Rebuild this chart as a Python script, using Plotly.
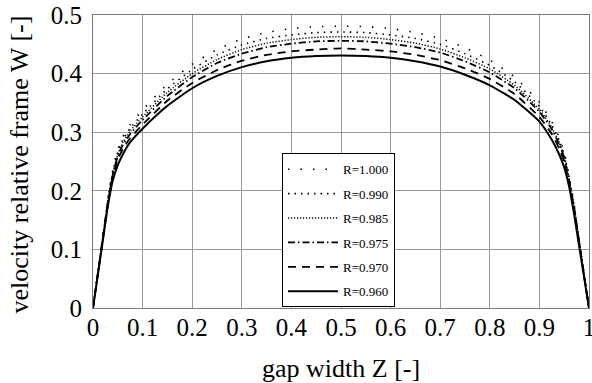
import plotly.graph_objects as go

Z = [0, .01, .02, .03, .04, .05, .06, .075, .1, .15, .2, .25, .3, .35, .4, .45, .5,
     .55, .6, .65, .7, .75, .8, .85, .9, .925, .94, .95, .96, .97, .98, .99, 1.0]

W_R1000 = [0, .062, .124, .186, .236, .27, .292, .313, .338, .382, .416, .441, .459, .47, .477, .48, .481,
           .48, .477, .47, .46, .444, .423, .394, .351, .318, .291, .266, .225, .176, .117, .058, 0]
W_R0990 = [0, .061, .122, .184, .233, .266, .287, .307, .331, .374, .407, .432, .449, .46, .466, .47, .471,
           .47, .466, .46, .45, .434, .414, .386, .344, .312, .286, .262, .222, .174, .116, .058, 0]
W_R0985 = [0, .06, .121, .182, .23, .262, .282, .302, .326, .368, .4, .424, .441, .452, .458, .462, .463,
           .462, .458, .452, .442, .427, .408, .38, .339, .308, .282, .259, .22, .172, .115, .057, 0]
W_R0975 = [0, .06, .12, .18, .228, .259, .278, .297, .321, .362, .394, .418, .434, .445, .451, .455, .456,
           .455, .451, .445, .436, .421, .402, .375, .335, .305, .279, .256, .218, .171, .114, .057, 0]
W_R0970 = [0, .059, .118, .177, .224, .254, .271, .29, .313, .354, .384, .406, .422, .432, .438, .441, .443,
           .441, .438, .432, .423, .409, .391, .365, .326, .297, .272, .25, .214, .168, .112, .056, 0]
W_R0960 = [0, .058, .116, .174, .218, .244, .262, .283, .306, .345, .375, .396, .411, .421, .427, .43, .431,
           .43, .427, .421, .412, .398, .38, .355, .318, .287, .262, .24, .207, .16, .106, .053, 0]

labels = ["R=1.000", "R=0.990", "R=0.985", "R=0.975", "R=0.970", "R=0.960"]
series = [W_R1000, W_R0990, W_R0985, W_R0975, W_R0970, W_R0960]
dashes = ["1.5px,11px", "1.5px,5px", "1.2px,1.8px", "7px,3px,1.5px,3px", "8px,6px", "solid"]
widths = [1.6, 1.6, 1.5, 1.8, 1.8, 2.0]

tick_x = [0, .1, .2, .3, .4, .5, .6, .7, .8, .9, 1]
tick_x_text = ["0", "0.1", "0.2", "0.3", "0.4", "0.5", "0.6", "0.7", "0.8", "0.9", "1"]
tick_y = [0, .1, .2, .3, .4, .5]
tick_y_text = ["0", "0.1", "0.2", "0.3", "0.4", "0.5"]

FONT = "Liberation Serif, Times New Roman, serif"

fig = go.Figure()
for i, (lab, w, d, lw) in enumerate(zip(labels, series, dashes, widths)):
    fig.add_trace(go.Scatter(x=Z, y=w, mode="lines", name=lab, legendgroup=str(i),
                             line=dict(color="black", dash=d, width=lw, shape="spline", smoothing=0.5)))

axis_common = dict(showgrid=True, gridcolor="#9a9a9a", gridwidth=1, zeroline=False,
                   showline=True, linecolor="#7a7a7a", linewidth=1, mirror=True,
                   tickcolor="rgba(0,0,0,0)", automargin=False,
                   ticklabeloverflow="allow",
                   tickfont=dict(family=FONT, size=25, color="black"))

fig.update_layout(
    width=592, height=383,
    margin=dict(l=93, r=3, t=15, b=75),
    paper_bgcolor="white", plot_bgcolor="white",
    font=dict(family=FONT, color="black"),
    xaxis=dict(range=[0, 1], tickvals=tick_x, ticktext=tick_x_text, ticks="",
               ticklabelstandoff=-3, **axis_common),
    yaxis=dict(range=[0, 0.5], tickvals=tick_y, ticktext=tick_y_text, ticks="outside",
               ticklen=5, **axis_common),
    legend=dict(x=0.381, y=0.528, xanchor="left", yanchor="top",
                bgcolor="white", bordercolor="black", borderwidth=1,
                font=dict(family=FONT, size=13, color="black"), tracegroupgap=4.5,
                itemwidth=50),
    showlegend=True,
    annotations=[
        dict(text="gap width Z [-]", xref="paper", yref="paper", x=0.5, y=-0.205,
             xanchor="center", yanchor="middle", showarrow=False,
             font=dict(family=FONT, size=26, color="black")),
        dict(text="velocity relative frame W [-]", xref="paper", yref="paper", x=-0.149, y=0.49,
             xanchor="center", yanchor="middle", textangle=-90, showarrow=False,
             font=dict(family=FONT, size=26, color="black")),
    ],
)

fig.write_html("out.html", config={"displayModeBar": False},
               post_script="document.body.style.margin='0px';")
